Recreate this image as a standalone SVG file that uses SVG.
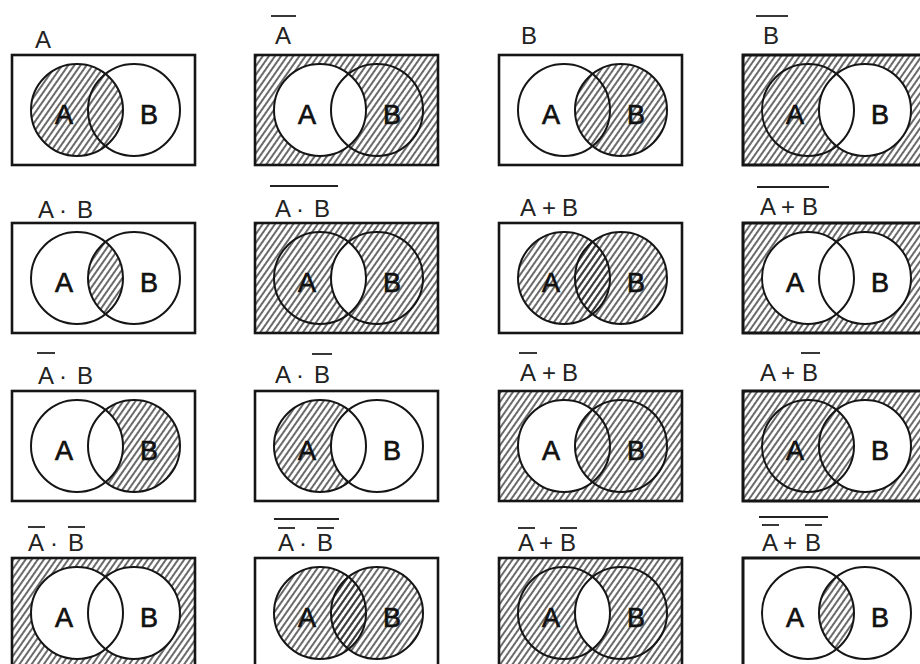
<svg xmlns="http://www.w3.org/2000/svg" xmlns:xlink="http://www.w3.org/1999/xlink" width="920" height="664" viewBox="0 0 920 664">
<style>
.box{fill:none;stroke:#151515;stroke-width:2.6}
.ring{fill:none;stroke:#151515;stroke-width:2}
.in{font-family:"Liberation Sans",Arial,sans-serif;font-size:27px;fill:#111;stroke:#111;stroke-width:0.7;text-anchor:middle}
.lb{font-family:"Liberation Sans",Arial,sans-serif;font-size:24px;fill:#222}
.bar{stroke:#222;stroke-width:1.8}
</style>
<defs>
<pattern id="h" patternUnits="userSpaceOnUse" width="5" height="12" patternTransform="rotate(35)">
<line x1="2" y1="0" x2="2" y2="12" stroke="#2a2a2a" stroke-width="1.4"/>
</pattern>
<clipPath id="cA"><circle cx="65" cy="55" r="46"/></clipPath>
<circle id="sA" cx="65" cy="55" r="46"/>
<circle id="sB" cx="122" cy="55" r="46"/>
<rect id="sR" x="0" y="0" width="183" height="110"/>
<circle id="sL" cx="122" cy="55" r="46" clip-path="url(#cA)"/>
<g id="frame">
<rect class="box" x="0" y="0" width="183" height="110"/>
<circle class="ring" cx="65" cy="55" r="46"/>
<circle class="ring" cx="122" cy="55" r="46"/>
<text class="in" x="52" y="69">A</text>
<text class="in" x="137" y="69">B</text>
</g>
</defs>

<!-- Row 1 -->
<g id="n-A">
<g transform="translate(12,55)"><use href="#sA" fill="url(#h)"/><use href="#frame"/></g>
<text class="lb" x="35" y="48">A</text>
</g>
<g id="n-notA">
<g transform="translate(255,55)"><use href="#sR" fill="url(#h)"/><use href="#sA" fill="#fff"/><use href="#frame"/></g>
<text class="lb" x="275" y="44">A</text><line class="bar" x1="271" y1="16" x2="296" y2="16"/>
</g>
<g id="n-B">
<g transform="translate(499,55)"><use href="#sB" fill="url(#h)"/><use href="#frame"/></g>
<text class="lb" x="521" y="44">B</text>
</g>
<g id="n-notB">
<g transform="translate(743,55)"><rect x="0" y="0" width="190" height="110" fill="url(#h)"/><use href="#sB" fill="#fff"/><rect class="box" x="0" y="0" width="190" height="110"/><use href="#frame"/></g>
<text class="lb" x="763" y="44">B</text><line class="bar" x1="756" y1="16" x2="788" y2="16"/>
</g>

<!-- Row 2 -->
<g id="n-AandB">
<g transform="translate(12,223)"><use href="#sL" fill="url(#h)"/><use href="#frame"/></g>
<text class="lb" x="38 59 77" y="218">A·B</text>
</g>
<g id="n-notAandB">
<g transform="translate(255,223)"><use href="#sR" fill="url(#h)"/><use href="#sL" fill="#fff"/><use href="#frame"/></g>
<text class="lb" x="275 296 314" y="217">A·B</text><line class="bar" x1="270" y1="186" x2="338" y2="186"/>
</g>
<g id="n-AorB">
<g transform="translate(499,223)"><use href="#sA" fill="url(#h)"/><use href="#sB" fill="url(#h)"/><use href="#frame"/></g>
<text class="lb" x="520 542 562" y="216">A+B</text>
</g>
<g id="n-notAorB">
<g transform="translate(743,223)"><rect x="0" y="0" width="190" height="110" fill="url(#h)"/><use href="#sA" fill="#fff"/><use href="#sB" fill="#fff"/><rect class="box" x="0" y="0" width="190" height="110"/><use href="#frame"/></g>
<text class="lb" x="760 781 802" y="215">A+B</text><line class="bar" x1="757" y1="187" x2="829" y2="187"/>
</g>

<!-- Row 3 -->
<g id="n-nAandB">
<g transform="translate(12,391)"><use href="#sB" fill="url(#h)"/><use href="#sL" fill="#fff"/><use href="#frame"/></g>
<text class="lb" x="38 59 77" y="384">A·B</text><line class="bar" x1="37" y1="353" x2="55" y2="353"/>
</g>
<g id="n-AandnB">
<g transform="translate(255,391)"><use href="#sA" fill="url(#h)"/><use href="#sL" fill="#fff"/><use href="#frame"/></g>
<text class="lb" x="275 296 314" y="383">A·B</text><line class="bar" x1="312" y1="354" x2="332" y2="354"/>
</g>
<g id="n-nAorB">
<g transform="translate(499,391)"><use href="#sR" fill="url(#h)"/><use href="#sA" fill="#fff"/><use href="#sL" fill="url(#h)"/><use href="#frame"/></g>
<text class="lb" x="520 542 562" y="381">A+B</text><line class="bar" x1="519" y1="353" x2="537" y2="353"/>
</g>
<g id="n-AornB">
<g transform="translate(743,391)"><rect x="0" y="0" width="190" height="110" fill="url(#h)"/><use href="#sB" fill="#fff"/><use href="#sL" fill="url(#h)"/><rect class="box" x="0" y="0" width="190" height="110"/><use href="#frame"/></g>
<text class="lb" x="760 781 802" y="381">A+B</text><line class="bar" x1="801" y1="353" x2="820" y2="353"/>
</g>

<!-- Row 4 -->
<g id="n-nAandnB">
<g transform="translate(12,558)"><use href="#sR" fill="url(#h)"/><use href="#sA" fill="#fff"/><use href="#sB" fill="#fff"/><use href="#frame"/></g>
<text class="lb" x="28 50 68" y="551">A·B</text><line class="bar" x1="28" y1="527" x2="45" y2="527"/><line class="bar" x1="68" y1="527" x2="85" y2="527"/>
</g>
<g id="n-not-nAandnB">
<g transform="translate(255,558)"><use href="#sA" fill="url(#h)"/><use href="#sB" fill="url(#h)"/><use href="#frame"/></g>
<text class="lb" x="278 299 317" y="551">A·B</text><line class="bar" x1="278" y1="528" x2="295" y2="528"/><line class="bar" x1="317" y1="528" x2="334" y2="528"/><line class="bar" x1="274" y1="519" x2="339" y2="519"/>
</g>
<g id="n-nAornB">
<g transform="translate(499,558)"><use href="#sR" fill="url(#h)"/><use href="#sL" fill="#fff"/><use href="#frame"/></g>
<text class="lb" x="518 539 560" y="551">A+B</text><line class="bar" x1="518" y1="528" x2="535" y2="528"/><line class="bar" x1="560" y1="528" x2="577" y2="528"/>
</g>
<g id="n-not-nAornB">
<g transform="translate(743,558)"><use href="#sL" fill="url(#h)"/><rect class="box" x="0" y="0" width="190" height="110"/><use href="#frame"/></g>
<text class="lb" x="762 783 805" y="551">A+B</text><line class="bar" x1="762" y1="525" x2="779" y2="525"/><line class="bar" x1="805" y1="525" x2="822" y2="525"/><line class="bar" x1="759" y1="517" x2="828" y2="517"/>
</g>
<g id="connectors"/>
</svg>
